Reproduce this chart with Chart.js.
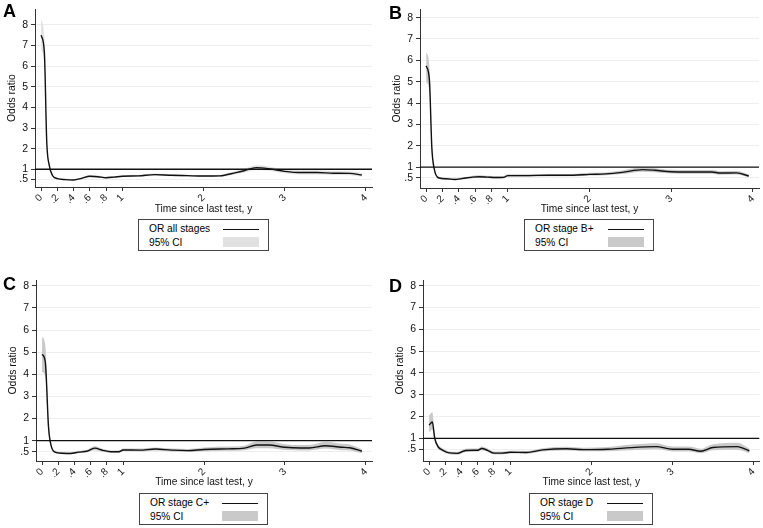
<!DOCTYPE html>
<html lang="en">
<head>
<meta charset="UTF-8">
<title>Odds ratio by time since last test</title>
<script src="https://cdn.jsdelivr.net/npm/chart.js"></script>
<style>
  body { margin: 0; background: #fff; font-family: 'Liberation Sans', Arial, sans-serif; }
  #wrap { position: relative; width: 763px; height: 528px; overflow: hidden; }
  .panel { position: absolute; }
  .panel canvas { position: absolute; left: 0; top: 0; }
  .letter { position: absolute; font-weight: bold; font-size: 18px; color: #000; }
  .legend { position: absolute; border: 1px solid #444; background: #fff; box-sizing: border-box;
            font-size: 10.2px; color: #000; }
  .legend .row { position: absolute; left: 10px; }
  .legend .line { position: absolute; height: 0; border-top: 1.5px solid #111; }
  .legend .box { position: absolute; height: 10px; }
</style>
</head>
<body>
<div id="wrap"></div>
<script>
// time since last test (years)
const timeA = [0, 0.04, 0.07, 0.1, 0.14, 0.2, 0.3, 0.4, 0.5, 0.6, 0.7, 0.8, 0.9, 1.0, 1.2, 1.4, 1.6, 1.8, 2.0, 2.2, 2.4, 2.5, 2.65, 2.8, 3.0, 3.2, 3.4, 3.6, 3.8, 3.95];
const orA = [7.5, 6.7, 2.3, 1.2, 0.7, 0.55, 0.5, 0.48, 0.56, 0.66, 0.64, 0.59, 0.62, 0.66, 0.68, 0.74, 0.71, 0.69, 0.67, 0.68, 0.84, 0.93, 1.08, 1.03, 0.9, 0.84, 0.84, 0.81, 0.8, 0.72];
const loA = [6.8, 6.1, 2.1, 1.1, 0.65, 0.5, 0.46, 0.44, 0.51, 0.61, 0.59, 0.55, 0.58, 0.62, 0.63, 0.69, 0.66, 0.64, 0.62, 0.63, 0.76, 0.84, 0.97, 0.93, 0.81, 0.75, 0.75, 0.72, 0.71, 0.64];
const hiA = [8.3, 7.4, 2.5, 1.3, 0.76, 0.6, 0.55, 0.53, 0.61, 0.72, 0.7, 0.64, 0.67, 0.71, 0.73, 0.79, 0.76, 0.74, 0.72, 0.74, 0.92, 1.02, 1.19, 1.14, 1.0, 0.94, 0.94, 0.91, 0.9, 0.81];

const timeB = [0, 0.04, 0.07, 0.1, 0.15, 0.25, 0.35, 0.45, 0.55, 0.65, 0.75, 0.85, 0.95, 1.0, 1.2, 1.5, 1.8, 2.0, 2.2, 2.4, 2.65, 2.8, 3.0, 3.2, 3.5, 3.6, 3.8, 3.95];
const orB = [5.74, 5.1, 1.9, 0.9, 0.5, 0.45, 0.42, 0.47, 0.52, 0.55, 0.53, 0.51, 0.52, 0.6, 0.6, 0.62, 0.62, 0.66, 0.68, 0.75, 0.88, 0.85, 0.78, 0.77, 0.77, 0.72, 0.73, 0.58];
const loB = [5.0, 4.5, 1.7, 0.82, 0.45, 0.41, 0.38, 0.42, 0.47, 0.49, 0.48, 0.46, 0.47, 0.55, 0.55, 0.57, 0.57, 0.6, 0.62, 0.67, 0.78, 0.76, 0.7, 0.69, 0.69, 0.64, 0.65, 0.51];
const hiB = [6.4, 5.7, 2.1, 1.0, 0.56, 0.5, 0.47, 0.52, 0.58, 0.62, 0.59, 0.57, 0.58, 0.66, 0.66, 0.68, 0.68, 0.73, 0.75, 0.84, 0.99, 0.95, 0.87, 0.86, 0.86, 0.81, 0.82, 0.66];

const timeC = [0, 0.04, 0.08, 0.11, 0.16, 0.25, 0.35, 0.45, 0.55, 0.65, 0.75, 0.85, 0.95, 1.0, 1.2, 1.4, 1.6, 1.8, 2.0, 2.3, 2.5, 2.65, 2.8, 3.0, 3.2, 3.3, 3.5, 3.7, 3.8, 3.95];
const orC = [4.9, 4.55, 1.6, 0.8, 0.48, 0.43, 0.42, 0.48, 0.52, 0.66, 0.56, 0.5, 0.5, 0.58, 0.57, 0.62, 0.57, 0.55, 0.6, 0.63, 0.66, 0.8, 0.8, 0.7, 0.67, 0.67, 0.77, 0.7, 0.68, 0.52];
const loC = [4.1, 3.9, 1.4, 0.72, 0.43, 0.39, 0.38, 0.43, 0.46, 0.57, 0.5, 0.45, 0.45, 0.52, 0.51, 0.56, 0.51, 0.49, 0.52, 0.54, 0.57, 0.66, 0.66, 0.58, 0.56, 0.56, 0.64, 0.57, 0.56, 0.43];
const hiC = [5.7, 5.3, 1.8, 0.9, 0.54, 0.48, 0.47, 0.54, 0.58, 0.75, 0.63, 0.56, 0.56, 0.65, 0.64, 0.69, 0.64, 0.62, 0.69, 0.73, 0.77, 0.96, 0.96, 0.84, 0.8, 0.8, 0.95, 0.86, 0.83, 0.62];

const timeD = [0, 0.04, 0.07, 0.11, 0.17, 0.25, 0.35, 0.45, 0.55, 0.6, 0.65, 0.72, 0.8, 0.9, 1.0, 1.2, 1.4, 1.7, 1.9, 2.2, 2.4, 2.8, 3.0, 3.2, 3.35, 3.5, 3.8, 3.95];
const orD = [1.6, 1.75, 1.0, 0.62, 0.45, 0.33, 0.31, 0.44, 0.45, 0.45, 0.53, 0.45, 0.32, 0.32, 0.36, 0.35, 0.47, 0.52, 0.48, 0.5, 0.55, 0.62, 0.5, 0.5, 0.41, 0.58, 0.62, 0.42];
const loD = [1.25, 1.4, 0.85, 0.52, 0.38, 0.27, 0.25, 0.37, 0.38, 0.38, 0.45, 0.38, 0.26, 0.26, 0.3, 0.29, 0.4, 0.44, 0.41, 0.41, 0.44, 0.5, 0.4, 0.4, 0.32, 0.45, 0.48, 0.32];
const hiD = [2.05, 2.2, 1.2, 0.74, 0.53, 0.4, 0.38, 0.52, 0.53, 0.53, 0.62, 0.53, 0.39, 0.39, 0.43, 0.42, 0.55, 0.61, 0.57, 0.6, 0.68, 0.77, 0.62, 0.62, 0.52, 0.73, 0.8, 0.54];

const xTicks = [0, 0.2, 0.4, 0.6, 0.8, 1, 2, 3, 4];
const yTicks = [0.5, 1, 2, 3, 4, 5, 6, 7, 8];
const refValue = 1;

const fmt = v => (v > 0 && v < 1) ? String(v).replace(/^0/, '') : String(v);
const pts = (t, v) => t.map((x, i) => ({ x: x, y: v[i] }));

const panels = [
  { id: 'A', left: 0, top: 0, w: 380, h: 218, yw: 35, padR: 8, padT: 3, xh: 31, ymin: 0.14, ymax: 8.76,
    t: timeA, or: orA, lo: loA, hi: hiA, ci: '#e1e1e1', label: 'OR all stages',
    letter: [3, 1], legend: [138, 219, 131, 32] },
  { id: 'B', left: 380, top: 0, w: 383, h: 218, yw: 40, padR: 4, padT: 3, xh: 30, ymin: 0.02, ymax: 8.39,
    t: timeB, or: orB, lo: loB, hi: hiB, ci: '#c9c9c9', label: 'OR stage B+',
    letter: [9, 3], legend: [144, 219, 130, 32] },
  { id: 'C', left: 0, top: 265, w: 380, h: 226, yw: 36, padR: 8, padT: 15, xh: 30, ymin: 0.08, ymax: 8.26,
    t: timeC, or: orC, lo: loC, hi: hiC, ci: '#c9c9c9', label: 'OR stage C+',
    letter: [3, 9], legend: [139, 228, 129, 32] },
  { id: 'D', left: 380, top: 265, w: 383, h: 226, yw: 43, padR: 3, padT: 15, xh: 30, ymin: -0.04, ymax: 8.26,
    t: timeD, or: orD, lo: loD, hi: hiD, ci: '#c9c9c9', label: 'OR stage D',
    letter: [9, 11], legend: [149, 228, 124, 32] }
];

const wrap = document.getElementById('wrap');
const XMIN = -0.075, XMAX = 4.075;
const FONT = 'Liberation Sans';

panels.forEach(p => {
  const div = document.createElement('div');
  div.className = 'panel';
  div.style.left = p.left + 'px';
  div.style.top = p.top + 'px';
  div.style.width = p.w + 'px';
  div.style.height = '263px';
  const cv = document.createElement('canvas');
  cv.width = p.w; cv.height = p.h;
  cv.style.width = p.w + 'px'; cv.style.height = p.h + 'px';
  div.appendChild(cv);

  const lt = document.createElement('div');
  lt.className = 'letter';
  lt.textContent = p.id;
  lt.style.left = p.letter[0] + 'px';
  lt.style.top = p.letter[1] + 'px';
  div.appendChild(lt);

  const lg = document.createElement('div');
  lg.className = 'legend';
  const [lx, ly, lw, lh] = p.legend;
  lg.style.left = lx + 'px'; lg.style.top = ly + 'px';
  lg.style.width = lw + 'px'; lg.style.height = lh + 'px';
  lg.innerHTML =
    '<div class="row" style="top:3px">' + p.label + '</div>' +
    '<div class="line" style="left:' + (lw - 47) + 'px;width:36px;top:9px"></div>' +
    '<div class="row" style="top:17px">95% CI</div>' +
    '<div class="box" style="left:' + (lw - 47) + 'px;width:36px;top:17px;background:' + p.ci + '"></div>';
  div.appendChild(lg);
  wrap.appendChild(div);

  new Chart(cv.getContext('2d'), {
    type: 'line',
    data: {
      datasets: [
        { data: pts(p.t, p.hi), order: 3, borderWidth: 0, pointRadius: 0, fill: '+1', backgroundColor: p.ci, cubicInterpolationMode: 'monotone' },
        { data: pts(p.t, p.lo), order: 3, borderWidth: 0, pointRadius: 0, fill: false, cubicInterpolationMode: 'monotone' },
        { data: [{ x: XMIN, y: refValue }, { x: XMAX, y: refValue }], order: 1, borderColor: '#111', borderWidth: 1.3, pointRadius: 0, fill: false },
        { data: pts(p.t, p.or), order: 0, borderColor: '#111', borderWidth: 1.4, pointRadius: 0, fill: false, cubicInterpolationMode: 'monotone' }
      ]
    },
    options: {
      responsive: false,
      animation: false,
      devicePixelRatio: 1,
      layout: { padding: { left: 0, right: p.padR, top: p.padT, bottom: 0 } },
      plugins: { legend: { display: false }, tooltip: { enabled: false } },
      scales: {
        x: {
          type: 'linear', min: XMIN, max: XMAX,
          afterBuildTicks: s => { s.ticks = xTicks.map(v => ({ value: v })); },
          afterFit: s => { s.height = p.xh; },
          ticks: { autoSkip: false, minRotation: 45, maxRotation: 45, padding: 1,
                   font: { family: FONT, size: 10 }, color: '#222', callback: v => fmt(v) },
          grid: { drawOnChartArea: false, tickLength: 4, tickColor: '#333' },
          border: { display: true, color: '#333', width: 1 },
          title: { display: true, text: 'Time since last test, y', color: '#111',
                   font: { family: FONT, size: 10.2 }, padding: { top: 2, bottom: 3 } }
        },
        y: {
          type: 'linear', min: p.ymin, max: p.ymax,
          afterBuildTicks: s => { s.ticks = yTicks.map(v => ({ value: v })); },
          afterFit: s => { s.width = p.yw; },
          ticks: { padding: 3, font: { family: FONT, size: 10.5 }, color: '#111', callback: v => fmt(v) },
          grid: { color: '#eceff1', lineWidth: 1, tickLength: 4, tickColor: '#333' },
          border: { display: true, color: '#333', width: 1 },
          title: { display: true, text: 'Odds ratio', color: '#111',
                   font: { family: FONT, size: 10.4 }, padding: { top: p.yw - 29, bottom: 0 } }
        }
      }
    }
  });
});
</script>
</body>
</html>
